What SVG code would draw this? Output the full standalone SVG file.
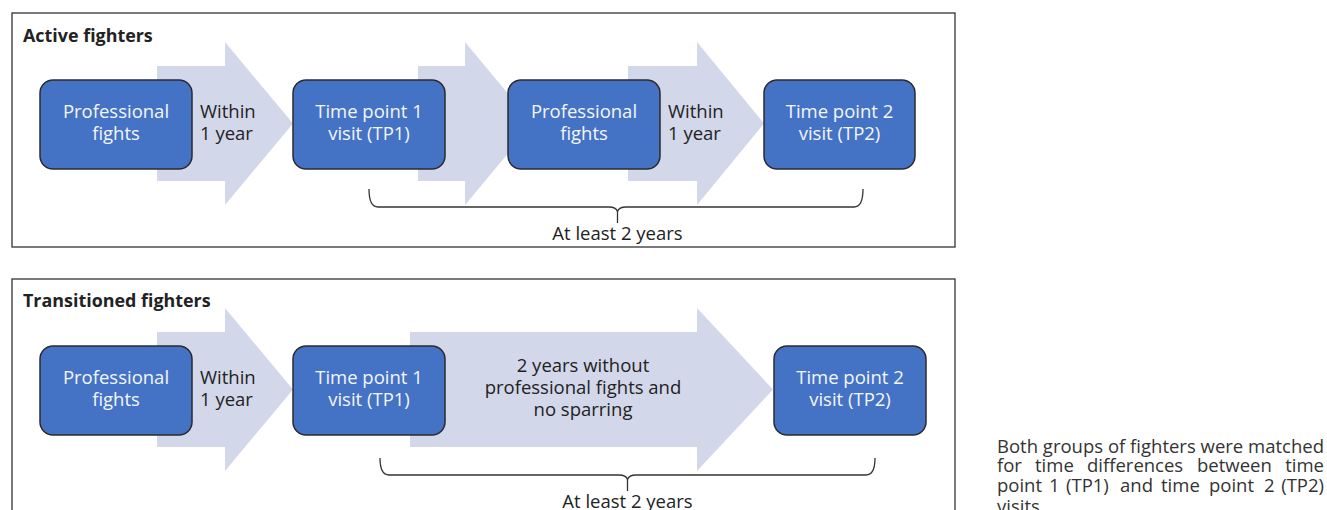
<svg xmlns="http://www.w3.org/2000/svg" width="1327" height="510" viewBox="0 0 1327 510">
  <style>
    text { font-family: "Open Sans", "Noto Sans", "Liberation Sans", sans-serif; font-size: 18.5px; fill: #222; }
    .title { font-weight: bold; font-size: 17.9px; }
    .box { fill: #4472c4; stroke: #2b2b2b; stroke-width: 1.5; }
    .boxtxt { fill: #f4f6fb; text-anchor: middle; }
    .arrow { fill: #d3d7ea; stroke: none; }
    .panel { fill: #ffffff; stroke: #333; stroke-width: 1.3; }
    .brace { fill: none; stroke: #333; stroke-width: 1.3; }
    .mid { text-anchor: middle; }
    .side { font-size: 18.5px; fill: #333; }
  </style>
  <rect width="1327" height="510" fill="#ffffff"/>

  <!-- Top panel -->
  <g id="panel-active">
    <rect class="panel" x="12" y="13" width="943" height="234"/>
    <text class="title" x="23" y="42">Active fighters</text>
  </g>

  <!-- Bottom panel -->
  <g id="panel-transitioned">
    <rect class="panel" x="12" y="279" width="943" height="240"/>
    <text class="title" x="23" y="307">Transitioned fighters</text>
  </g>

  <g id="connectors">
    <!-- Top row arrows -->
    <polygon class="arrow" points="157,66 225,66 225,42 293,123.5 225,205 225,181 157,181"/>
    <polygon class="arrow" points="418,66 465,66 465,42 533,123.5 465,205 465,181 418,181"/>
    <polygon class="arrow" points="628,66 697,66 697,42 764,123.5 697,205 697,181 628,181"/>
    <!-- Bottom row arrows -->
    <polygon class="arrow" points="157,332 225,332 225,308 293,389.5 225,471 225,447 157,447"/>
    <polygon class="arrow" points="410,332 697,332 697,308 773,389.5 697,471 697,447 410,447"/>
    <!-- Braces -->
    <path class="brace" d="M369,189 Q369,207 378,207 L609,207 Q616,207 617.5,211.5 Q619,207 626,207 L854,207 Q863,207 863,189 M617.5,211.5 L617.5,223"/>
    <path class="brace" d="M380,458 Q380,475 389,475 L619,475 Q626,475 627.5,479.5 Q629,475 636,475 L866,475 Q875,475 875,458 M627.5,479.5 L627.5,491"/>
  </g>

  <!-- Top row nodes -->
  <g id="a-fights1">
    <rect class="box" x="40" y="80" width="152" height="89" rx="13"/>
    <text class="boxtxt" x="116" y="118">Professional</text>
    <text class="boxtxt" x="116" y="140">fights</text>
  </g>
  <g id="a-within1">
    <text x="200" y="118">Within</text>
    <text x="200" y="140">1 year</text>
  </g>
  <g id="a-tp1">
    <rect class="box" x="293" y="80" width="152" height="89" rx="13"/>
    <text class="boxtxt" x="369" y="118">Time point 1</text>
    <text class="boxtxt" x="369" y="140">visit (TP1)</text>
  </g>
  <g id="a-fights2">
    <rect class="box" x="508" y="80" width="152" height="89" rx="13"/>
    <text class="boxtxt" x="584" y="118">Professional</text>
    <text class="boxtxt" x="584" y="140">fights</text>
  </g>
  <g id="a-within2">
    <text x="668" y="118">Within</text>
    <text x="668" y="140">1 year</text>
  </g>
  <g id="a-tp2">
    <rect class="box" x="764" y="80" width="151" height="89" rx="13"/>
    <text class="boxtxt" x="839.5" y="118">Time point 2</text>
    <text class="boxtxt" x="839.5" y="140">visit (TP2)</text>
  </g>
  <g id="a-label">
    <text class="mid" x="617.5" y="240">At least 2 years</text>
  </g>

  <!-- Bottom row nodes -->
  <g id="t-fights1">
    <rect class="box" x="40" y="346" width="152" height="89" rx="13"/>
    <text class="boxtxt" x="116" y="384">Professional</text>
    <text class="boxtxt" x="116" y="406">fights</text>
  </g>
  <g id="t-within1">
    <text x="200" y="384">Within</text>
    <text x="200" y="406">1 year</text>
  </g>
  <g id="t-tp1">
    <rect class="box" x="293" y="346" width="152" height="89" rx="13"/>
    <text class="boxtxt" x="369" y="384">Time point 1</text>
    <text class="boxtxt" x="369" y="406">visit (TP1)</text>
  </g>
  <g id="t-gap">
    <text class="mid" x="583" y="372">2 years without</text>
    <text class="mid" x="583" y="394">professional fights and</text>
    <text class="mid" x="583" y="416">no sparring</text>
  </g>
  <g id="t-tp2">
    <rect class="box" x="774" y="346" width="152" height="89" rx="13"/>
    <text class="boxtxt" x="850" y="384">Time point 2</text>
    <text class="boxtxt" x="850" y="406">visit (TP2)</text>
  </g>
  <g id="t-label">
    <text class="mid" x="627.5" y="508">At least 2 years</text>
  </g>

  <!-- Side note -->
  <g id="note">
    <text class="side" x="997" y="453" textLength="327" lengthAdjust="spacing">Both groups of fighters were matched</text>
    <text class="side" y="472.3"><tspan x="997">for</tspan><tspan x="1035">time</tspan><tspan x="1087">differences</tspan><tspan x="1197">between</tspan></text>
    <text class="side" x="1324" y="472.3" text-anchor="end">time</text>
    <text class="side" y="491.5"><tspan x="997">point</tspan><tspan x="1049">1</tspan><tspan x="1066">(TP1)</tspan><tspan x="1120">and</tspan><tspan x="1161">time</tspan><tspan x="1209">point</tspan><tspan x="1264">2</tspan></text>
    <text class="side" x="1324" y="491.5" text-anchor="end">(TP2)</text>
    <text class="side" x="997" y="513">visits</text>
  </g>
</svg>
